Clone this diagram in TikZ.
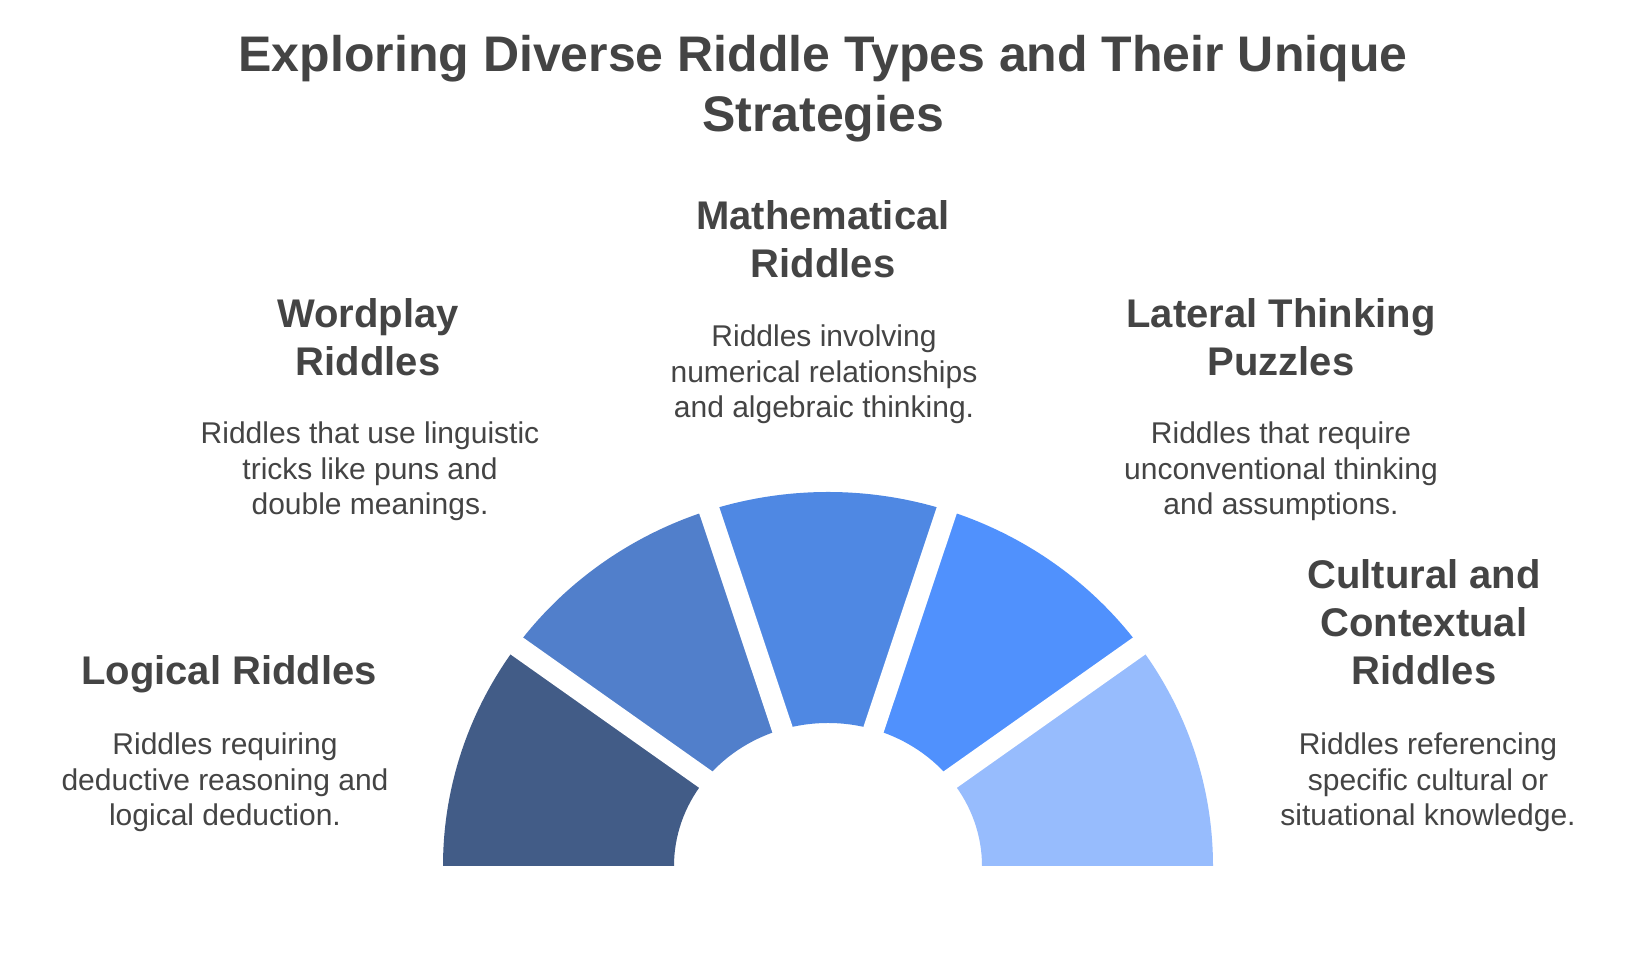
\documentclass[tikz,border=0pt]{standalone}
\usepackage{fontspec}
\setmainfont{Liberation Sans}
\definecolor{txt}{HTML}{444444}
\definecolor{segA}{HTML}{425C87}
\definecolor{segB}{HTML}{517FCB}
\definecolor{segC}{HTML}{4F88E3}
\definecolor{segD}{HTML}{5091FD}
\definecolor{segE}{HTML}{97BCFD}
\begin{document}
\begin{tikzpicture}[
  x=1pt, y=1pt,
  title/.style={align=center, anchor=base, inner sep=0pt, text=txt, font=\fontsize{50}{60}\selectfont\bfseries},
  heading/.style={align=center, anchor=base, inner sep=0pt, text=txt, font=\fontsize{40}{48}\selectfont\bfseries},
  desc/.style={align=center, anchor=base, inner sep=0pt, text=txt, font=\fontsize{30}{35.5}\selectfont},
  gap/.style={white, line width=21pt}
]
\useasboundingbox[fill=white] (0,0) rectangle (1634,963);

% Fan
\coordinate (fanc) at (828,97);
\foreach \col [count=\i from 0] in {segE,segD,segC,segB,segA} {
  \pgfmathsetmacro\aa{36*\i}
  \pgfmathsetmacro\ab{36*(\i+1)}
  \fill[\col] ([shift={(\aa:154pt and 143pt)}]fanc)
    arc[start angle=\aa, end angle=\ab, x radius=154pt, y radius=143pt]
    -- ([shift={(\ab:385pt and 374pt)}]fanc)
    arc[start angle=\ab, end angle=\aa, x radius=385pt, y radius=374pt] -- cycle;
}
\foreach \a in {36,72,108,144}
  \draw[gap] (fanc) -- ([shift={(\a:410pt and 399pt)}]fanc);

% Title
\node (title) [title] at (823,831) {Exploring Diverse Riddle Types and Their Unique\\Strategies};

% Labels
\node (mathhead) [heading] at (823,685) {Mathematical\\Riddles};
\node (mathdesc) [desc] at (824,545) {Riddles involving\\numerical relationships\\and algebraic thinking.};

\node (wordhead) [heading] at (368,587) {Wordplay\\Riddles};
\node (worddesc) [desc] at (370,448) {Riddles that use linguistic\\tricks like puns and\\double meanings.};

\node (lathead) [heading] at (1281,587) {Lateral Thinking\\Puzzles};
\node (latdesc) [desc] at (1281,448) {Riddles that require\\unconventional thinking\\and assumptions.};

\node (loghead) [heading] at (229,278) {Logical Riddles};
\node (logdesc) [desc] at (225,137) {Riddles requiring\\deductive reasoning and\\logical deduction.};

\node (culthead) [heading] at (1424,278) {Cultural and\\Contextual\\Riddles};
\node (cultdesc) [desc] at (1428,137) {Riddles referencing\\specific cultural or\\situational knowledge.};

\end{tikzpicture}
\end{document}
